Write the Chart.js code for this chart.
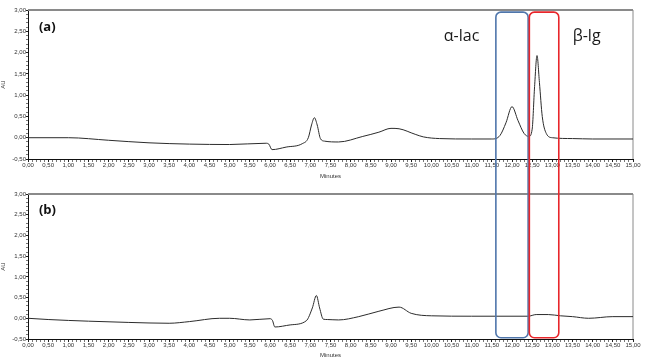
<!DOCTYPE html>
<html>
<head>
<meta charset="utf-8">
<script src="https://cdn.jsdelivr.net/npm/chart.js@4.4.1/dist/chart.umd.min.js"></script>
<style>
  body { margin: 0; background: #fff; }
  .wrap { position: absolute; left: 0; width: 648px; }
  #top { top: 0; height: 180px; }
  #bot { top: 180px; height: 179px; }
</style>
</head>
<body>
<div class="wrap" id="top"><canvas id="chartA"></canvas></div>
<div class="wrap" id="bot"><canvas id="chartB"></canvas></div>
<script>
// sample (a) trace: minutes / AU
const timeA = [0, 1, 2, 3, 4, 5, 5.9, 5.97, 6.05, 6.4, 6.8, 6.95, 7.03, 7.1, 7.17, 7.25, 7.35, 7.7, 8.3, 8.7, 9.0, 9.2, 9.6, 9.8, 10.2, 11.0, 11.5, 11.7, 11.85, 12.0, 12.15, 12.3, 12.42, 12.5, 12.56, 12.62, 12.68, 12.75, 12.85, 13.0, 13.5, 14, 15];
const auA = [0, 0, -0.06, -0.12, -0.15, -0.16, -0.13, -0.15, -0.28, -0.22, -0.14, 0.0, 0.3, 0.47, 0.3, -0.02, -0.08, -0.1, 0.03, 0.13, 0.22, 0.21, 0.08, 0.02, -0.02, -0.03, -0.03, 0.05, 0.35, 0.73, 0.4, 0.1, 0.03, 0.2, 1.2, 1.93, 1.3, 0.5, 0.1, 0.0, -0.02, -0.03, -0.03];

// sample (b) trace
const timeB = [0, 0.5, 1.5, 2.5, 3.5, 4.0, 4.75, 5.0, 5.5, 6.0, 6.06, 6.12, 6.5, 6.9, 7.05, 7.15, 7.23, 7.32, 7.42, 7.7, 8.2, 8.7, 9.2, 9.5, 10.0, 11.0, 12.4, 12.6, 12.9, 13.2, 13.5, 13.9, 14.5, 15];
const auB = [0, -0.03, -0.07, -0.1, -0.12, -0.08, 0.0, 0.0, -0.04, -0.01, -0.05, -0.21, -0.16, -0.06, 0.25, 0.55, 0.25, -0.02, -0.03, -0.04, 0.04, 0.17, 0.27, 0.12, 0.06, 0.05, 0.05, 0.09, 0.09, 0.06, 0.04, 0.0, 0.04, 0.04];

// marked regions (minutes)
const boxNames = ['α-lac', 'β-lg'];
const boxFrom = [11.6, 12.43];
const boxTo = [12.4, 13.16];
const boxColors = ['#4f76ab', '#e8262b'];

const fmt = v => v.toFixed(2).replace('.', ',');
const isMajor = v => Math.round(v * 10) % 5 === 0;

function pts(t, v) {
  return t.map((x, i) => ({ x: x, y: v[i] }));
}

// gray frame round the plot area
const framePlugin = {
  id: 'frame',
  beforeDatasetsDraw(chart) {
    const a = chart.chartArea, c = chart.ctx;
    c.save();
    c.strokeStyle = '#8a8a8a';
    c.lineWidth = 1;
    c.beginPath();
    c.moveTo(a.right, a.top);
    c.lineTo(a.right, a.bottom);
    c.stroke();
    c.lineWidth = 2;
    c.beginPath();
    c.moveTo(a.left, a.top);
    c.lineTo(a.right, a.top);
    c.stroke();
    c.restore();
  }
};

// boxes run across both panels: top part drawn in (a), bottom part in (b)
function boxPlugin(part) {
  return {
    id: 'boxes',
    afterDraw(chart) {
      const c = chart.ctx, x = chart.scales.x, y = chart.scales.y;
      const r = 5;
      c.save();
      c.lineWidth = 1.6;
      for (let i = 0; i < boxFrom.length; i++) {
        const x1 = x.getPixelForValue(boxFrom[i]);
        const x2 = x.getPixelForValue(boxTo[i]);
        c.strokeStyle = boxColors[i];
        c.beginPath();
        if (part === 'top') {
          const yt = y.getPixelForValue(2.95);
          c.moveTo(x1, chart.height);
          c.lineTo(x1, yt + r);
          c.arcTo(x1, yt, x1 + r, yt, r);
          c.lineTo(x2 - r, yt);
          c.arcTo(x2, yt, x2, yt + r, r);
          c.lineTo(x2, chart.height);
        } else {
          const yb = y.getPixelForValue(-0.47);
          c.moveTo(x1, 0);
          c.lineTo(x1, yb - r);
          c.arcTo(x1, yb, x1 + r, yb, r);
          c.lineTo(x2 - r, yb);
          c.arcTo(x2, yb, x2, yb - r, r);
          c.lineTo(x2, 0);
        }
        c.stroke();
      }
      if (part === 'top') {
        c.fillStyle = '#1a1a1a';
        c.font = '16px "Open Sans", "Noto Sans", sans-serif';
        c.textBaseline = 'alphabetic';
        c.textAlign = 'center';
        c.fillText(boxNames[0], x.getPixelForValue(10.75), 41);
        c.fillText(boxNames[1], x.getPixelForValue(13.85), 41);
      }
      c.restore();
    }
  };
}

function panelLabel(text) {
  return {
    id: 'panelLabel',
    afterDraw(chart) {
      const c = chart.ctx, x = chart.scales.x, y = chart.scales.y;
      c.save();
      c.fillStyle = '#111';
      c.font = 'bold 13px "Open Sans", "Noto Sans", sans-serif';
      c.textBaseline = 'middle';
      c.fillText(text, x.getPixelForValue(0.27), y.getPixelForValue(2.6));
      c.restore();
    }
  };
}

function makeChart(id, data, label, padTop, axisH, part) {
  return new Chart(document.getElementById(id), {
    type: 'line',
    data: {
      datasets: [{
        data: data,
        borderColor: '#2b2b2b',
        borderWidth: 1,
        pointRadius: 0,
        cubicInterpolationMode: 'monotone',
        fill: false
      }]
    },
    options: {
      responsive: true,
      maintainAspectRatio: false,
      animation: false,
      events: [],
      layout: { padding: { top: padTop, right: 15, left: 0, bottom: 0 } },
      plugins: { legend: { display: false }, tooltip: { enabled: false } },
      scales: {
        x: {
          type: 'linear',
          min: 0, max: 15,
          afterFit: s => { s.height = axisH; },
          border: { color: '#111', width: 1 },
          grid: {
            drawOnChartArea: false,
            tickLength: 3,
            tickColor: ctx => isMajor(ctx.tick.value) ? '#222' : '#777'
          },
          ticks: {
            stepSize: 0.1,
            autoSkip: false,
            maxRotation: 0,
            padding: 0,
            color: '#333',
            font: { family: 'Liberation Sans', size: 6 },
            callback: v => isMajor(v) ? fmt(v) : ''
          },
          title: {
            display: true,
            text: 'Minutes',
            color: '#333',
            padding: 0,
            font: { family: 'Liberation Sans', size: 6 }
          }
        },
        y: {
          min: -0.5, max: 3,
          afterFit: s => { s.width = 28; },
          border: { color: '#111', width: 1 },
          grid: {
            drawOnChartArea: false,
            tickLength: 2,
            tickColor: ctx => isMajor(ctx.tick.value) ? '#222' : '#777'
          },
          ticks: {
            stepSize: 0.1,
            autoSkip: false,
            padding: 0,
            color: '#333',
            font: { family: 'Liberation Sans', size: 6 },
            callback: v => isMajor(v) ? fmt(v) : ''
          },
          title: {
            display: true,
            text: 'AU',
            color: '#333',
            padding: 0,
            font: { family: 'Liberation Sans', size: 6 }
          }
        }
      }
    },
    plugins: [framePlugin, panelLabel(label), boxPlugin(part)]
  });
}

makeChart('chartA', pts(timeA, auA), '(a)', 10, 21, 'top');
makeChart('chartB', pts(timeB, auB), '(b)', 14, 20, 'bottom');
</script>
</body>
</html>
